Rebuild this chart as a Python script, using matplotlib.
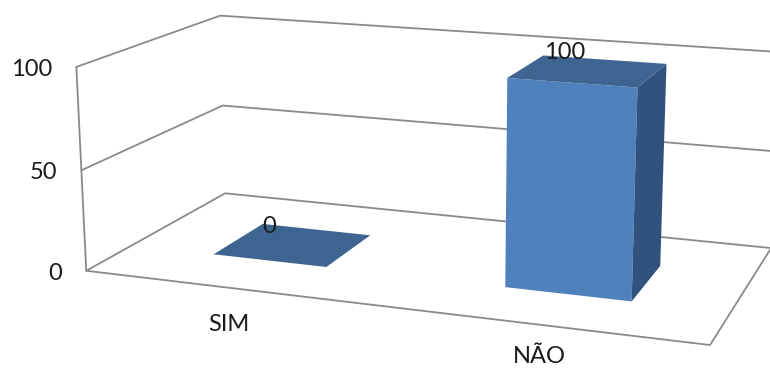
import numpy as np
import matplotlib
matplotlib.use('Agg')
import matplotlib.pyplot as plt
from matplotlib.patches import Polygon

categories = ['SIM', 'NÃO']
values = [0, 100]
y_ticks = [0, 50, 100]

plt.rcParams['font.family'] = ['Lato', 'DejaVu Sans']

LINE_COLOR = '#8a8a8a'
FRONT_COLOR = '#4f81bd'
TOP_COLOR = '#3e6491'
SIDE_COLOR = '#30527c'
TEXT_COLOR = '#1a1a1a'
FONT_SIZE = 17

# Box corners as (x, depth, height) with their position on the canvas in pixels
BOX_CORNERS = [
    ((0, 0, 0), (86, 271)),
    ((1, 0, 0), (710, 345)),
    ((1, 1, 0), (771, 248)),
    ((0, 1, 0), (225, 193)),
    ((0, 0, 1), (76, 67)),
    ((0, 1, 1), (220, 15.5)),
    ((1, 1, 1), (780, 52)),
    ((0, 0, 0.5), (82, 170)),
    ((0, 1, 0.5), (223, 106)),
    ((1, 1, 0.5), (776, 151.5)),
]

BAR_WIDTH = 0.4      # share of one category
BAR_DEPTH = (0.30, 0.68)


# Fit a perspective camera (3x4 matrix, last entry fixed to 1)
def fit_camera(corners):
    rows = []
    targets = []
    for (x, d, z), (px, py) in corners:
        rows.append([x, d, z, 1, 0, 0, 0, 0, -px * x, -px * d, -px * z])
        targets.append(px)
        rows.append([0, 0, 0, 0, x, d, z, 1, -py * x, -py * d, -py * z])
        targets.append(py)
    sol = np.linalg.lstsq(np.array(rows, float), np.array(targets, float), rcond=None)[0]
    return np.append(sol, 1).reshape(3, 4)


CAMERA = fit_camera(BOX_CORNERS)


# Project chart coordinates onto the canvas
def project(x, d, value):
    p = CAMERA @ np.array([x, d, value / max(y_ticks), 1.0])
    return p[0] / p[2], p[1] / p[2]


def draw_frame(ax):
    line = dict(color=LINE_COLOR, linewidth=1.3, solid_capstyle='round', zorder=1)
    for tick in y_ticks:
        pts = [project(0, 0, tick), project(0, 1, tick), project(1, 1, tick)]
        ax.plot(*zip(*pts), **line)
        fx, fy = pts[0]
        ax.text(fx - 24, fy + 2.5, str(tick), ha='right', va='center',
                fontsize=FONT_SIZE, color=TEXT_COLOR)
    pts = [project(0, 0, y_ticks[-1]), project(0, 0, 0), project(1, 0, 0), project(1, 1, 0)]
    ax.plot(*zip(*pts), **line)


def draw_bar(ax, index, value):
    count = len(categories)
    x0 = (index + 0.5 - BAR_WIDTH / 2) / count
    x1 = (index + 0.5 + BAR_WIDTH / 2) / count
    d0, d1 = BAR_DEPTH
    faces = [
        ([(x0, d0, 0), (x1, d0, 0), (x1, d0, value), (x0, d0, value)], FRONT_COLOR),
        ([(x1, d0, 0), (x1, d1, 0), (x1, d1, value), (x1, d0, value)], SIDE_COLOR),
        ([(x0, d0, value), (x1, d0, value), (x1, d1, value), (x0, d1, value)], TOP_COLOR),
    ]
    for corners, color in faces:
        ax.add_patch(Polygon([project(*c) for c in corners], closed=True,
                             facecolor=color, edgecolor='none', zorder=2))

    # Value label sits up and left of the bar's top
    cx, cy = project((x0 + x1) / 2, (d0 + d1) / 2, value)
    ax.text(cx - 24, cy - 18, str(value), ha='center', va='center',
            fontsize=FONT_SIZE, color=TEXT_COLOR, zorder=3)

    # Category label below the front floor edge, kept inside the canvas
    lx, ly = project((index + 0.5) / count, 0, 0)
    ax.text(lx, min(ly + 43, 363), categories[index], ha='center', va='baseline',
            fontsize=FONT_SIZE, color=TEXT_COLOR, zorder=3)


def main():
    fig = plt.figure(figsize=(7.7, 3.69), dpi=100)
    ax = fig.add_axes([0, 0, 1, 1])
    ax.set_xlim(0, 770)
    ax.set_ylim(369, 0)
    ax.axis('off')

    draw_frame(ax)
    for index, value in enumerate(values):
        draw_bar(ax, index, value)

    fig.savefig('out.png', dpi=100)


if __name__ == "__main__":
    main()
